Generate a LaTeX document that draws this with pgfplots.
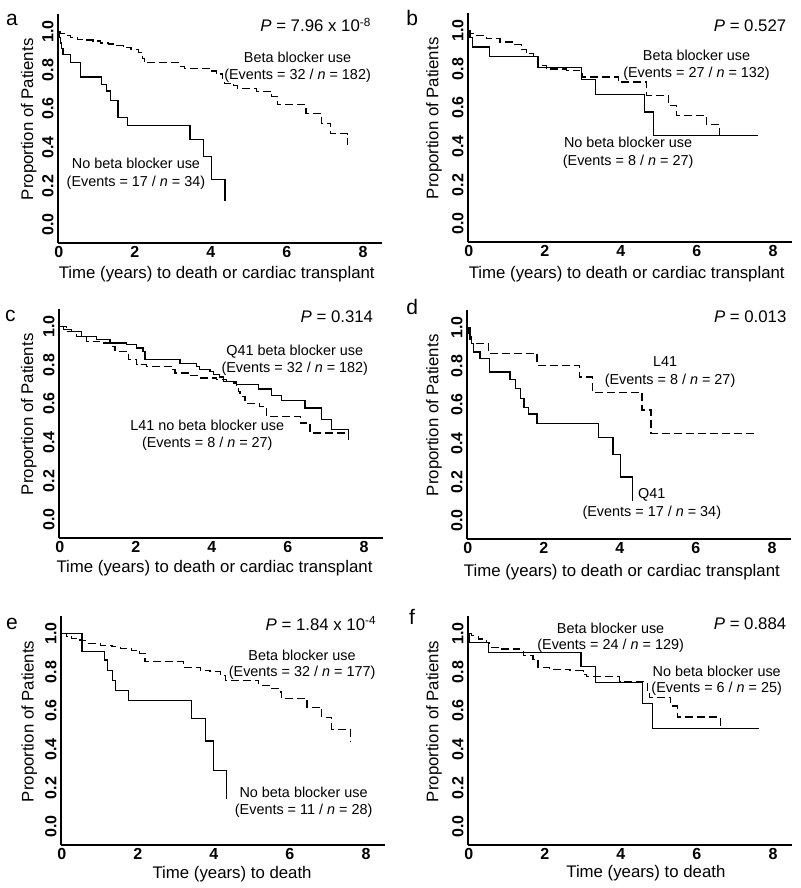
\documentclass[border=0pt]{standalone}
\usepackage{fontspec}
\setmainfont{Liberation Sans}
\usepackage{pgfplots}
\pgfplotsset{compat=1.18}
\pgfplotsset{
 km/.style={
  width=162pt, height=114.5pt, scale only axis,
  xmin=-0.02, xmax=8.5, ymin=-0.095, ymax=1.09,
  axis x line*=bottom, axis y line*=left,
  axis line style={line width=1pt, -},
  xtick={0,2,4,6,8}, xticklabels={0,2,4,6,8},
  ytick={0,0.2,0.4,0.6,0.8,1}, yticklabels={0.0,0.2,0.4,0.6,0.8,1.0},
  major tick length=0pt,
  tick label style={font=\fontsize{8}{9}\selectfont\bfseries},
  xticklabel style={inner sep=1.5pt},
  yticklabel style={rotate=90, anchor=south, inner sep=2pt},
  label style={font=\fontsize{8.4}{10}\selectfont},
  ylabel={Proportion of Patients},
  clip=false, anchor=south west,
 },
 solidkm/.style={const plot, no marks, line width=0.6pt, black},
 dashkm/.style={const plot, no marks, line width=0.6pt, black, dash pattern=on 4pt off 2pt},
}
\tikzset{
 ann/.style={font=\fontsize{7.2}{8.6}\selectfont, inner sep=0pt},
 pval/.style={font=\fontsize{8.4}{10}\selectfont, anchor=east, inner sep=0pt},
 plet/.style={font=\fontsize{10.5}{12}\selectfont, inner sep=0pt},
}
\begin{document}
\begin{tikzpicture}
\useasboundingbox (0,0) rectangle (400pt,-444pt);

% ---------- a ----------
\begin{axis}[km, at={(29pt,-121.5pt)},
  xlabel={Time (years) to death or cardiac transplant},
  xlabel style={at={(axis description cs:0.49,-0.137)}, anchor=center},
  ylabel style={at={(axis description cs:-0.09,0.54)}, anchor=center}]
\addplot[solidkm] coordinates {(0,1) (0.02,0.97) (0.05,0.94) (0.08,0.91) (0.11,0.88) (0.31,0.838) (0.58,0.764) (1.12,0.726) (1.25,0.692) (1.37,0.641) (1.56,0.556) (1.81,0.513) (3.45,0.44) (3.8,0.354) (4.02,0.235) (4.37,0.12)};
\addplot[dashkm] coordinates {(0,1) (0.05,0.99) (0.15,0.98) (0.3,0.97) (0.5,0.96) (0.7,0.955) (0.9,0.95) (1.1,0.94) (1.3,0.935) (1.5,0.925) (1.7,0.915) (1.9,0.905) (2.1,0.89) (2.2,0.86) (2.25,0.838) (3.2,0.82) (3.3,0.808) (4.0,0.795) (4.15,0.78) (4.3,0.755) (4.35,0.73) (4.6,0.72) (4.7,0.705) (5.2,0.69) (5.6,0.665) (5.75,0.62) (6.5,0.575) (6.9,0.525) (7.15,0.47) (7.6,0.41)};
\node[plet] at (axis cs:-1.23,1.061) {a};
\node[pval] at (axis cs:8.23,1.034) {\textit{P} = 7.96 x 10\textsuperscript{-8}};
\node[ann] at (axis cs:6.28,0.867) {Beta blocker use};
\node[ann] at (axis cs:6.28,0.769) {(Events = 32 / \textit{n} = 182)};
\node[ann] at (axis cs:2.03,0.316) {No beta blocker use};
\node[ann] at (axis cs:2.03,0.217) {(Events = 17 / \textit{n} = 34)};
\end{axis}

% ---------- b ----------
\begin{axis}[km, at={(234pt,-121pt)},
  xlabel={Time (years) to death or cardiac transplant},
  xlabel style={at={(axis description cs:0.49,-0.14)}, anchor=center},
  ylabel style={at={(axis description cs:-0.105,0.54)}, anchor=center}]
\addplot[solidkm] coordinates {(0,1) (0.03,0.963) (0.1,0.914) (0.54,0.866) (1.82,0.81) (2.96,0.747) (3.34,0.669) (4.63,0.578) (4.85,0.457) (7.61,0.457)};
\addplot[dashkm] coordinates {(0,1) (0.05,0.985) (0.2,0.974) (0.46,0.957) (0.82,0.94) (1.2,0.925) (1.39,0.9) (1.52,0.879) (1.7,0.866) (1.82,0.82) (2.04,0.80) (2.57,0.793) (2.92,0.788) (2.99,0.759) (3.93,0.733) (4.68,0.664) (5.25,0.612) (5.46,0.56) (6.25,0.514) (6.59,0.457) (7.61,0.457)};
\node[plet] at (axis cs:-1.49,1.066) {b};
\node[pval] at (axis cs:8.36,1.026) {\textit{P} = 0.527};
\node[ann] at (axis cs:5.99,0.871) {Beta blocker use};
\node[ann] at (axis cs:5.99,0.776) {(Events = 27 / \textit{n} = 132)};
\node[ann] at (axis cs:4.19,0.422) {No beta blocker use};
\node[ann] at (axis cs:4.19,0.319) {(Events = 8 / \textit{n} = 27)};
\end{axis}

% ---------- c ----------
\begin{axis}[km, at={(29.5pt,-269pt)},
  xlabel={Time (years) to death or cardiac transplant},
  xlabel style={at={(axis description cs:0.48,-0.133)}, anchor=center},
  ylabel style={at={(axis description cs:-0.093,0.54)}, anchor=center}]
\addplot[solidkm] coordinates {(0,1) (0.1,0.986) (0.31,0.974) (0.57,0.948) (0.96,0.931) (1.32,0.914) (1.75,0.905) (2.02,0.888) (2.19,0.871) (2.24,0.828) (3.16,0.81) (3.6,0.793) (3.68,0.776) (3.95,0.767) (4.04,0.75) (4.21,0.738) (4.3,0.716) (4.65,0.698) (5.22,0.676) (5.57,0.641) (5.83,0.616) (6.45,0.578) (6.89,0.517) (7.15,0.466) (7.6,0.414)};
\addplot[dashkm] coordinates {(0,1) (0.18,0.974) (0.44,0.948) (0.7,0.922) (1.05,0.914) (1.32,0.897) (1.45,0.871) (1.8,0.828) (2.02,0.802) (2.28,0.793) (2.98,0.776) (3.03,0.759) (3.42,0.745) (3.68,0.733) (4.12,0.724) (4.39,0.716) (4.56,0.707) (4.65,0.69) (4.69,0.664) (4.74,0.638) (4.87,0.603) (5.26,0.586) (5.44,0.534) (6.32,0.5) (6.58,0.448) (7.6,0.448)};
\node[plet] at (axis cs:-1.3,1.052) {c};
\node[pval] at (axis cs:8.25,1.052) {\textit{P} = 0.314};
\node[ann] at (axis cs:6.18,0.871) {Q41 beta blocker use};
\node[ann] at (axis cs:6.18,0.781) {(Events = 32 / \textit{n} = 182)};
\node[ann] at (axis cs:3.88,0.486) {L41 no beta blocker use};
\node[ann] at (axis cs:3.88,0.393) {(Events = 8 / \textit{n} = 27)};
\end{axis}

% ---------- d ----------
\begin{axis}[km, at={(233.5pt,-269.5pt)},
  xlabel={Time (years) to death or cardiac transplant},
  xlabel style={at={(axis description cs:0.478,-0.145)}, anchor=center},
  ylabel style={at={(axis description cs:-0.102,0.54)}, anchor=center}]
\addplot[solidkm] coordinates {(0,1) (0.03,0.97) (0.06,0.94) (0.1,0.917) (0.15,0.873) (0.32,0.839) (0.57,0.769) (1.11,0.729) (1.25,0.682) (1.38,0.63) (1.48,0.587) (1.6,0.552) (1.82,0.503) (3.44,0.431) (3.82,0.344) (4.01,0.226) (4.33,0.104)};
\addplot[dashkm] coordinates {(0,1) (0.06,0.969) (0.1,0.917) (0.54,0.865) (1.82,0.804) (2.94,0.743) (3.28,0.665) (4.58,0.573) (4.82,0.451) (7.62,0.451)};
\node[plet] at (axis cs:-1.46,1.106) {d};
\node[pval] at (axis cs:8.39,1.056) {\textit{P} = 0.013};
\node[ann] at (axis cs:5.19,0.821) {L41};
\node[ann] at (axis cs:5.32,0.722) {(Events = 8 / \textit{n} = 27)};
\node[ann] at (axis cs:4.84,0.135) {Q41};
\node[ann] at (axis cs:4.84,0.04) {(Events = 17 / \textit{n} = 34)};
\end{axis}

% ---------- e ----------
\begin{axis}[km, at={(30.5pt,-422.5pt)},
  xlabel={Time (years) to death},
  xlabel style={at={(axis description cs:0.528,-0.128)}, anchor=center},
  ylabel style={at={(axis description cs:-0.098,0.54)}, anchor=center}]
\addplot[solidkm] coordinates {(0,1) (0.53,0.908) (1.12,0.862) (1.21,0.81) (1.33,0.758) (1.42,0.706) (1.75,0.654) (3.42,0.559) (3.77,0.443) (3.99,0.291) (4.34,0.144)};
\addplot[dashkm] coordinates {(0,1) (0.13,0.986) (0.26,0.974) (0.48,0.962) (0.66,0.948) (1.01,0.939) (1.32,0.931) (1.54,0.922) (1.84,0.913) (2.05,0.896) (2.19,0.853) (3.2,0.824) (3.64,0.81) (3.9,0.801) (4.17,0.784) (4.3,0.758) (5.18,0.732) (5.48,0.715) (5.75,0.697) (5.78,0.663) (6.45,0.616) (6.84,0.564) (7.1,0.502) (7.59,0.443)};
\node[plet] at (axis cs:-1.31,1.05) {e};
\node[pval] at (axis cs:8.29,1.052) {\textit{P} = 1.84 x 10\textsuperscript{-4}};
\node[ann] at (axis cs:6.32,0.888) {Beta blocker use};
\node[ann] at (axis cs:6.32,0.796) {(Events = 32 / \textit{n} = 177)};
\node[ann] at (axis cs:6.36,0.178) {No beta blocker use};
\node[ann] at (axis cs:6.36,0.083) {(Events = 11 / \textit{n} = 28)};
\end{axis}

% ---------- f ----------
\begin{axis}[km, at={(234pt,-422.5pt)},
  xlabel={Time (years) to death},
  xlabel style={at={(axis description cs:0.549,-0.124)}, anchor=center},
  ylabel style={at={(axis description cs:-0.105,0.54)}, anchor=center}]
\addplot[solidkm] coordinates {(0,1) (0.01,0.953) (0.51,0.901) (2.95,0.827) (3.34,0.745) (4.56,0.636) (4.83,0.508) (7.61,0.508)};
\addplot[dashkm] coordinates {(0,1) (0.07,0.988) (0.25,0.971) (0.46,0.953) (0.55,0.927) (0.82,0.919) (1.34,0.91) (1.43,0.884) (1.69,0.867) (1.82,0.823) (2.13,0.815) (2.66,0.806) (3.01,0.789) (3.1,0.775) (3.97,0.75) (4.69,0.705) (4.75,0.67) (5.31,0.624) (5.48,0.567) (6.62,0.508) (7.61,0.508)};
\node[plet] at (axis cs:-1.49,1.087) {f};
\node[pval] at (axis cs:8.36,1.049) {\textit{P} = 0.884};
\node[ann] at (axis cs:3.73,1.028) {Beta blocker use};
\node[ann] at (axis cs:3.73,0.936) {(Events = 24 / \textit{n} = 129)};
\node[ann] at (axis cs:6.52,0.806) {No beta blocker use};
\node[ann] at (axis cs:6.52,0.711) {(Events = 6 / \textit{n} = 25)};
\end{axis}
\end{tikzpicture}
\end{document}
